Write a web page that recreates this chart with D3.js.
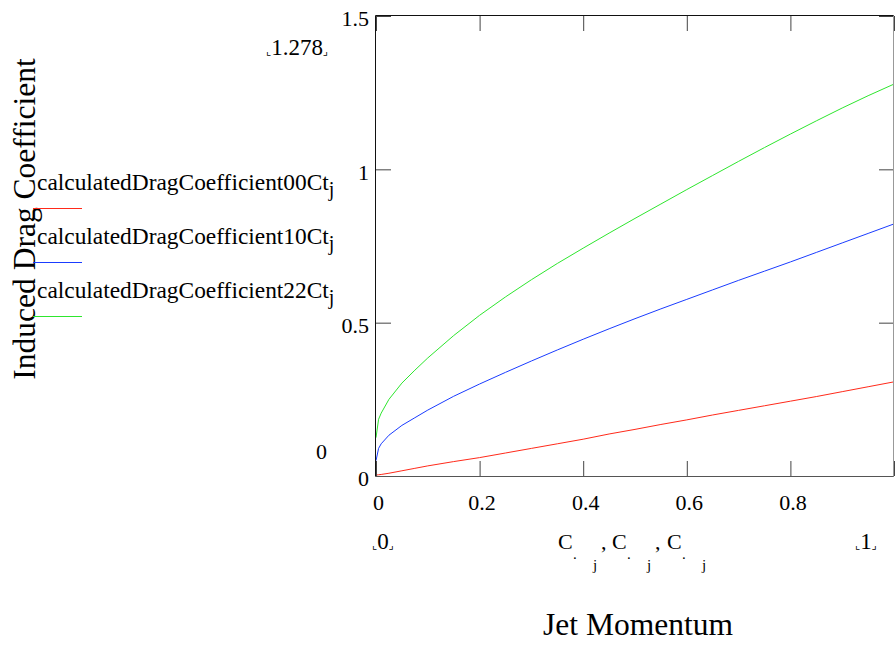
<!DOCTYPE html>
<html>
<head>
<meta charset="utf-8">
<script src="https://cdn.jsdelivr.net/npm/d3@7"></script>
<style>
  html, body { margin: 0; padding: 0; background: #fff; }
  svg { display: block; }
  text { font-family: "Liberation Serif", "Times New Roman", serif; fill: #000; }
</style>
</head>
<body>
<svg id="chart" width="895" height="645"></svg>
<script>
// Jet momentum coefficient C_j (x) and induced drag coefficient for three configurations
const jetMomentum = [0, 0.005, 0.01, 0.025, 0.05, 0.075, 0.1, 0.15, 0.2, 0.25, 0.3, 0.35, 0.4,
                     0.45, 0.5, 0.55, 0.6, 0.65, 0.7, 0.75, 0.8, 0.85, 0.9, 0.95, 1.0];
const dragCoefficient00 = [0.003, 0.004, 0.005, 0.009, 0.017, 0.025, 0.033, 0.047, 0.060, 0.075, 0.090, 0.105, 0.120,
                           0.137, 0.152, 0.168, 0.183, 0.199, 0.214, 0.229, 0.244, 0.259, 0.275, 0.291, 0.307];
const dragCoefficient10 = [0.050, 0.090, 0.105, 0.133, 0.165, 0.190, 0.215, 0.260, 0.300, 0.338, 0.375, 0.411, 0.446,
                           0.480, 0.513, 0.545, 0.576, 0.607, 0.638, 0.668, 0.698, 0.729, 0.760, 0.791, 0.822];
const dragCoefficient22 = [0.125, 0.185, 0.205, 0.250, 0.303, 0.345, 0.385, 0.458, 0.524, 0.584, 0.640, 0.693, 0.743,
                           0.792, 0.840, 0.887, 0.934, 0.980, 1.026, 1.071, 1.115, 1.158, 1.200, 1.240, 1.278];

const seriesNames = ["calculatedDragCoefficient00Ct", "calculatedDragCoefficient10Ct", "calculatedDragCoefficient22Ct"];
const seriesColors = ["#ff2a1a", "#1a3cff", "#2ee62e"];
const seriesValues = [dragCoefficient00, dragCoefficient10, dragCoefficient22];

const xTickValues = [0, 0.2, 0.4, 0.6, 0.8, 1];
const xTickLabels = ["0", "0.2", "0.4", "0.6", "0.8", ""];
const yTickValues = [0, 0.5, 1, 1.5];
const yTickLabels = ["0", "0.5", "1", "1.5"];
const xDomain = [0, 1];
const yDomain = [0, 1.5];

const yTitle = "Induced Drag Coefficient";
const xTitle = "Jet Momentum";
const yLimitTop = "1.278";
const yLimitBottom = "0";
const xLimitLeft = "0";
const xLimitRight = "1";

const svg = d3.select("#chart");
const plot = { left: 376, top: 16, width: 518, height: 460 };
const serif = '"Liberation Serif", "Times New Roman", serif';

const x = d3.scaleLinear().domain(xDomain).range([0, plot.width]);
const y = d3.scaleLinear().domain(yDomain).range([plot.height, 0]);

const g = svg.append("g").attr("transform", `translate(${plot.left},${plot.top})`);

// curves
const line = d3.line().x(d => x(d[0])).y(d => y(d[1]));
seriesValues.forEach((vals, i) => {
  g.append("path")
    .datum(jetMomentum.map((c, k) => [c, vals[k]]))
    .attr("fill", "none")
    .attr("stroke", seriesColors[i])
    .attr("stroke-width", 1)
    .attr("d", line);
});

// inward ticks on all four sides
const tickLen = 15;
function styleAxis(sel) {
  sel.attr("font-family", serif).attr("font-size", 22);
  sel.select(".domain").remove();
  sel.selectAll(".tick line").attr("stroke", "#444").attr("stroke-width", 1);
  sel.selectAll(".tick text").style("font-family", serif).attr("font-size", 22).attr("fill", "#000");
}

g.append("g")
  .attr("transform", `translate(0,${plot.height})`)
  .call(d3.axisBottom(x).tickValues(xTickValues).tickSizeInner(-tickLen).tickSizeOuter(0)
        .tickFormat((d, i) => xTickLabels[i]))
  .call(styleAxis)
  .call(s => s.selectAll(".tick text").attr("y", 18).attr("dx", 2));

g.append("g")
  .call(d3.axisTop(x).tickValues(xTickValues).tickSizeInner(-tickLen).tickSizeOuter(0).tickFormat(""))
  .call(styleAxis);

g.append("g")
  .call(d3.axisLeft(y).tickValues(yTickValues).tickSizeInner(-tickLen).tickSizeOuter(0)
        .tickPadding(7).tickFormat((d, i) => yTickLabels[i]))
  .call(styleAxis)
  .call(s => s.selectAll(".tick text").attr("dy", "0.45em"));

g.append("g")
  .attr("transform", `translate(${plot.width},0)`)
  .call(d3.axisRight(y).tickValues(yTickValues).tickSizeInner(-tickLen).tickSizeOuter(0).tickFormat(""))
  .call(styleAxis);

// frame
g.append("line").attr("x1", -0.5).attr("x2", -0.5).attr("y1", -0.5).attr("y2", plot.height + 0.5)
  .attr("stroke", "#111");
g.append("line").attr("x1", -0.5).attr("x2", plot.width).attr("y1", -0.5).attr("y2", -0.5)
  .attr("stroke", "#111");
g.append("line").attr("x1", -0.5).attr("x2", plot.width).attr("y1", plot.height + 0.5).attr("y2", plot.height + 0.5)
  .attr("stroke", "#555");
g.append("line").attr("x1", plot.width - 0.5).attr("x2", plot.width - 0.5).attr("y1", -0.5).attr("y2", plot.height + 0.5)
  .attr("stroke", "#999");

// axis-limit markers
const cornerFont = '"DejaVu Sans", sans-serif';
function limitLabel(px, py, value) {
  const t = svg.append("text").attr("x", px).attr("y", py).attr("font-size", 23);
  t.append("tspan").attr("font-family", cornerFont).attr("font-size", 11).text("\u231E");
  t.append("tspan").text(value);
  t.append("tspan").attr("font-family", cornerFont).attr("font-size", 11).text("\u231F");
  return t;
}
limitLabel(266, 55, yLimitTop);
limitLabel(372, 549, xLimitLeft);
limitLabel(855, 549, xLimitRight);

svg.append("text").attr("x", 327).attr("y", 459).attr("font-size", 22)
  .attr("text-anchor", "end").text(yLimitBottom);

// x-axis expression: C.j, C.j, C.j
const exprStarts = [558, 612, 667];
exprStarts.forEach((sx, i) => {
  svg.append("text").attr("x", sx).attr("y", 549).attr("font-size", 22).text("C");
  svg.append("text").attr("x", sx + 15).attr("y", 559).attr("font-size", 15).text(".");
  svg.append("text").attr("x", sx + 35).attr("y", 570).attr("font-size", 15).text("j");
  if (i < exprStarts.length - 1) {
    svg.append("text").attr("x", sx + 43).attr("y", 549).attr("font-size", 22).text(",");
  }
});

// axis titles
svg.append("text")
  .attr("transform", `translate(35,219) rotate(-90)`)
  .attr("text-anchor", "middle")
  .attr("font-size", 31.5)
  .text(yTitle);

svg.append("text")
  .attr("x", plot.left + plot.width / 2 + 3)
  .attr("y", 635)
  .attr("text-anchor", "middle")
  .attr("font-size", 31.5)
  .text(xTitle);

// legend
const legend = svg.append("g");
seriesNames.forEach((name, i) => {
  const baseY = 190 + i * 54;
  const t = legend.append("text").attr("x", 37).attr("y", baseY).attr("font-size", 23.4);
  t.append("tspan").text(name);
  t.append("tspan").attr("dx", 0).attr("dy", 6).attr("font-size", 20).text("j");
  legend.append("line")
    .attr("x1", 33).attr("x2", 82)
    .attr("y1", baseY + 18.5).attr("y2", baseY + 18.5)
    .attr("stroke", seriesColors[i]).attr("stroke-width", 1);
});
</script>
</body>
</html>
